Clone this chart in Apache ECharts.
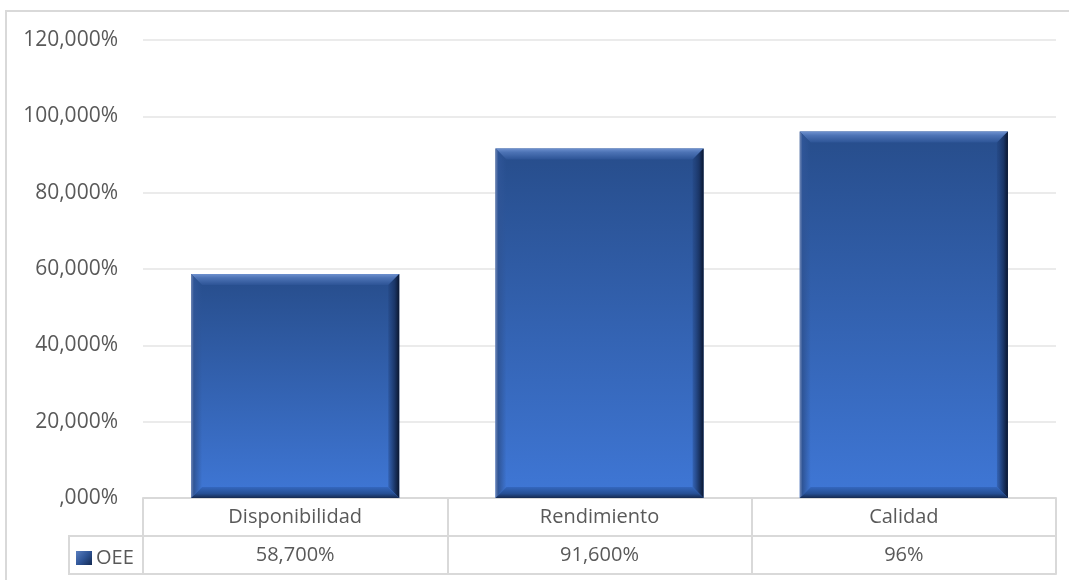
<!DOCTYPE html>
<html>
<head>
<meta charset="utf-8">
<script src="https://cdn.jsdelivr.net/npm/echarts@6/dist/echarts.min.js"></script>
<style>
  html, body { margin: 0; padding: 0; background: #ffffff; }
  #chart { width: 1069px; height: 580px; }
</style>
</head>
<body>
<div id="chart"></div>
<script>
// OEE components (percent)
const categories = ['Disponibilidad', 'Rendimiento', 'Calidad'];
const oeeValues = [58.7, 91.6, 96];
const valueLabels = ['58,700%', '91,600%', '96%'];
const yTicks = [0, 20, 40, 60, 80, 100, 120];

const FONT = '"Open Sans", "Liberation Sans", sans-serif';
const TEXT = '#595959';
const LINE = '#d9d9d9';

const chart = echarts.init(document.getElementById('chart'), null, { renderer: 'canvas' });

// Bevelled bar: a gradient face plus four trapezoid edges
function renderBevelBar(params, api) {
  const idx = api.value(0);
  const top = api.coord([idx, api.value(1)]);
  const base = api.coord([idx, 0]);
  const w = api.size([1, 0])[0] * 0.684;
  const x = top[0] - w / 2;
  const y = top[1];
  const h = base[1] - top[1];
  const b = Math.min(11, h / 2);
  const G = echarts.graphic.LinearGradient;
  return {
    type: 'group',
    children: [
      {
        type: 'rect',
        shape: { x: x, y: y, width: w, height: h },
        style: { fill: new G(0, 0, 0, 1, [
          { offset: 0, color: '#274d8b' },
          { offset: 1, color: '#3f77d6' }
        ]) }
      },
      { // top edge
        type: 'polygon',
        shape: { points: [[x, y], [x + w, y], [x + w - b, y + b], [x + b, y + b]] },
        style: { fill: new G(0, 0, 0, 1, [
          { offset: 0, color: '#6e91cf' },
          { offset: 0.35, color: '#4d73b5' },
          { offset: 1, color: '#2d5496' }
        ]) }
      },
      { // left edge
        type: 'polygon',
        shape: { points: [[x, y], [x + b, y + b], [x + b, y + h - b], [x, y + h]] },
        style: { fill: new G(0, 0, 1, 0, [
          { offset: 0, color: '#6f86b4' },
          { offset: 0.25, color: '#2f5597' },
          { offset: 1, color: 'rgba(47,85,151,0.0)' }
        ]) }
      },
      { // right edge
        type: 'polygon',
        shape: { points: [[x + w, y], [x + w, y + h], [x + w - b, y + h - b], [x + w - b, y + b]] },
        style: { fill: new G(0, 0, 1, 0, [
          { offset: 0, color: 'rgba(30,60,115,0.3)' },
          { offset: 0.6, color: '#1a3566' },
          { offset: 1, color: '#0b1730' }
        ]) }
      },
      { // bottom edge
        type: 'polygon',
        shape: { points: [[x, y + h], [x + w, y + h], [x + w - b, y + h - b], [x + b, y + h - b]] },
        style: { fill: new G(0, 0, 0, 1, [
          { offset: 0, color: '#3467be' },
          { offset: 0.6, color: '#264f94' },
          { offset: 1, color: '#15294f' }
        ]) }
      }
    ]
  };
}

const option = {
  animation: false,
  backgroundColor: '#ffffff',
  textStyle: { fontFamily: FONT },
  grid: { left: 143, right: 13, top: 40, bottom: 82, containLabel: false },
  legend: {
    show: true,
    left: 76,
    top: 548,
    padding: 0,
    itemWidth: 16,
    itemHeight: 14,
    itemGap: 4,
    icon: 'rect',
    data: ['OEE'],
    textStyle: { color: TEXT, fontSize: 20, fontFamily: FONT, padding: [0, 0, 0, -1] }
  },
  xAxis: [
    {
      type: 'category',
      data: categories,
      position: 'bottom',
      axisLine: { show: true, lineStyle: { color: LINE, width: 2 } },
      axisTick: { show: true, length: 76, interval: 0, lineStyle: { color: LINE, width: 2 } },
      axisLabel: { margin: 19, verticalAlign: 'middle', color: TEXT, fontSize: 20, fontFamily: FONT, interval: 0 },
      splitLine: { show: false }
    },
    {
      type: 'category',
      data: valueLabels,
      position: 'bottom',
      offset: 38,
      axisLine: { show: true, lineStyle: { color: LINE, width: 2 } },
      axisTick: { show: false },
      axisLabel: { margin: 19, verticalAlign: 'middle', color: TEXT, fontSize: 20, fontFamily: FONT, interval: 0 },
      splitLine: { show: false }
    },
    {
      type: 'category',
      data: categories,
      position: 'bottom',
      offset: 76,
      axisLine: { show: true, lineStyle: { color: LINE, width: 2 } },
      axisTick: { show: false },
      axisLabel: { show: false },
      splitLine: { show: false }
    }
  ],
  yAxis: {
    type: 'value',
    min: yTicks[0],
    max: yTicks[yTicks.length - 1],
    interval: yTicks[1] - yTicks[0],
    axisLine: { show: false },
    axisTick: { show: false },
    axisLabel: {
      margin: 25,
      color: TEXT,
      fontSize: 21,
      fontFamily: FONT,
      formatter: v => (v === 0 ? '' : String(v)) + ',000%'
    },
    splitLine: { show: true, lineStyle: { color: '#ebebeb', width: 2 } }
  },
  series: [
    {
      name: 'OEE',
      type: 'custom',
      xAxisIndex: 0,
      renderItem: renderBevelBar,
      itemStyle: {
        color: new echarts.graphic.LinearGradient(0, 0, 1, 1, [
          { offset: 0, color: '#5a7fc0' },
          { offset: 0.5, color: '#2f5597' },
          { offset: 1, color: '#142a52' }
        ])
      },
      encode: { x: 0, y: 1 },
      data: oeeValues.map((v, i) => [i, v])
    }
  ],
  graphic: [
    { // chart frame
      type: 'polyline',
      silent: true,
      shape: { points: [[6, 580], [6, 11], [1069, 11]] },
      style: { stroke: LINE, lineWidth: 2, fill: null }
    },
    { // legend cell of the data table
      type: 'polyline',
      silent: true,
      shape: { points: [[143, 536], [69, 536], [69, 574], [143, 574]] },
      style: { stroke: LINE, lineWidth: 2, fill: null }
    }
  ]
};

chart.setOption(option);
</script>
</body>
</html>
